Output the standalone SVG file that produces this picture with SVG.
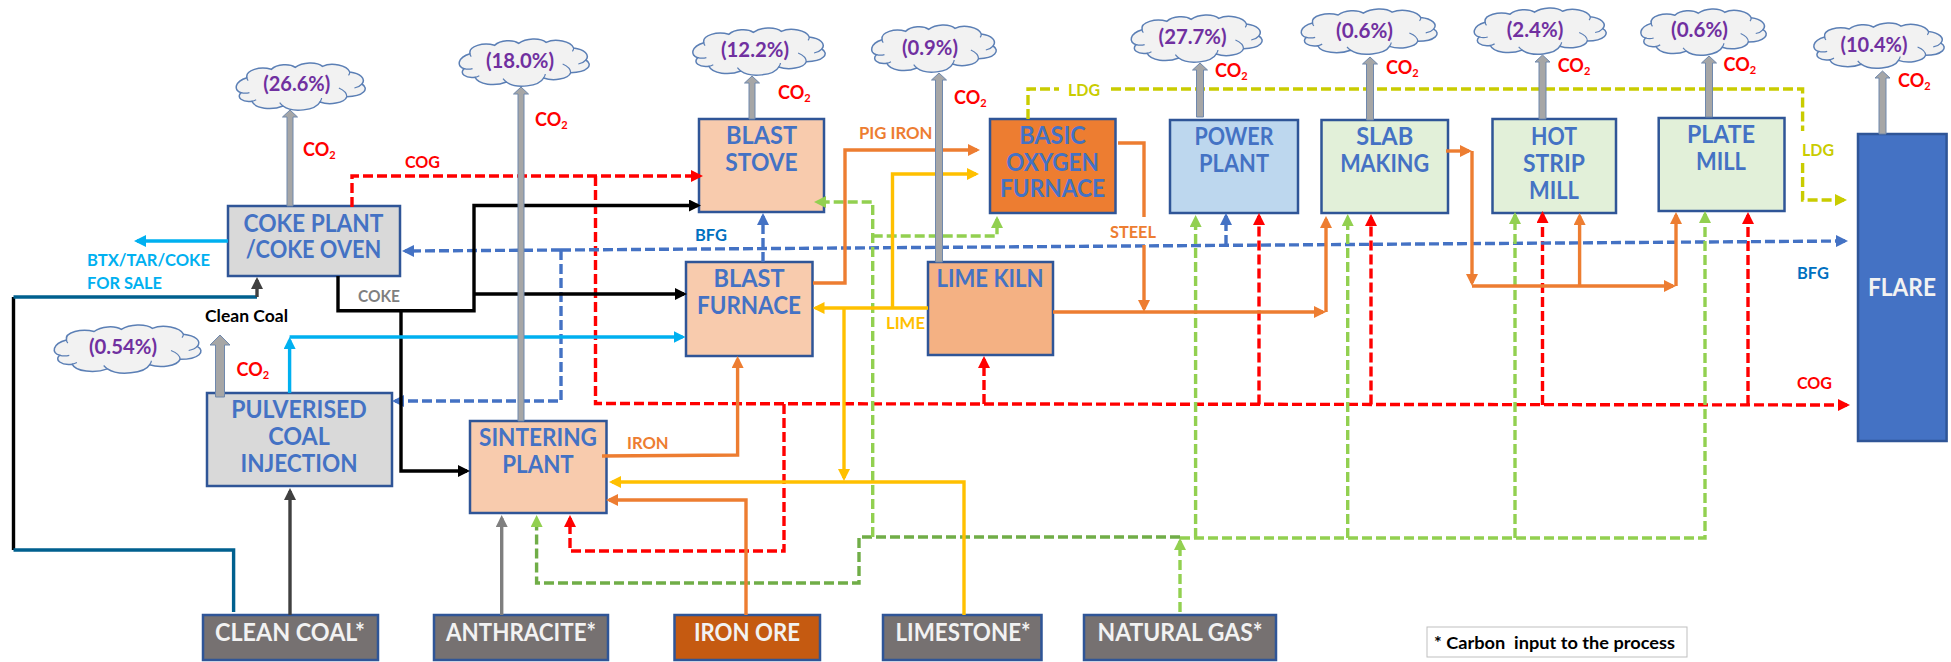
<svg xmlns="http://www.w3.org/2000/svg" xmlns:xlink="http://www.w3.org/1999/xlink" width="1951" height="662" viewBox="0 0 1951 662">
<style>
text{font-family:Lato,"Liberation Sans",sans-serif;font-weight:700}
.n{fill:#d9d9d9;stroke:#2f5597;stroke-width:2.5}
.nt{font-size:24px;fill:#4472c4;text-anchor:middle}
.it{font-size:24px;fill:#f2f2f2;text-anchor:middle}
.pc{font-size:21px;fill:#7030a0;text-anchor:middle}
.co{font-size:18px;fill:#f00}
.co tspan{font-size:11px}
.lb{font-size:17px}
.c{fill:none;stroke-width:3.4}
.d{stroke-dasharray:10 4}
.stack{fill:#a6a6a6;stroke:#6f88ad;stroke-width:1}
.cloud{fill:#f2f2f2;stroke:#5b7fb5;stroke-width:1.5;vector-effect:non-scaling-stroke}
.cl2{fill:none;stroke:#5b7fb5;stroke-width:1.2;vector-effect:non-scaling-stroke}
</style>
<defs>
<symbol id="cl" viewBox="0 0 312 147" preserveAspectRatio="none" overflow="visible">
<path class="cloud" d="M26,47C22,24 58,12 84,22C98,6 128,4 141,16C158,0 192,-2 206,13C228,0 264,10 271,30C296,34 310,50 300,66C318,80 304,104 264,104C258,124 222,130 200,120C190,145 135,154 112,132C85,146 45,140 38,118C15,122 0,106 12,92C-6,86 -4,58 26,47Z"/>
<path class="cl2" d="M26,47C26,50 27,53 29,56M12,92C18,94 26,94 32,92M38,118C41,117 45,115 48,113M112,132C108,128 106,125 104,122M200,120C202,116 204,112 204,108M264,104C264,94 256,84 245,78M300,66C296,72 290,76 282,78M271,30C271,34 270,37 268,40"/>
</symbol>
<marker id="mr" viewBox="0 0 12 12" markerWidth="12" markerHeight="12" refX="9" refY="6" orient="auto" markerUnits="userSpaceOnUse"><path d="M0,0L12,6L0,12Z" fill="#f00"/></marker>
<marker id="mb" viewBox="0 0 12 12" markerWidth="12" markerHeight="12" refX="9" refY="6" orient="auto" markerUnits="userSpaceOnUse"><path d="M0,0L12,6L0,12Z" fill="#4472c4"/></marker>
<marker id="mg" viewBox="0 0 12 12" markerWidth="12" markerHeight="12" refX="9" refY="6" orient="auto" markerUnits="userSpaceOnUse"><path d="M0,0L12,6L0,12Z" fill="#92d050"/></marker>
<marker id="ml" viewBox="0 0 12 12" markerWidth="12" markerHeight="12" refX="9" refY="6" orient="auto" markerUnits="userSpaceOnUse"><path d="M0,0L12,6L0,12Z" fill="#c9cc00"/></marker>
<marker id="mo" viewBox="0 0 12 12" markerWidth="12" markerHeight="12" refX="9" refY="6" orient="auto" markerUnits="userSpaceOnUse"><path d="M0,0L12,6L0,12Z" fill="#ed7d31"/></marker>
<marker id="my" viewBox="0 0 12 12" markerWidth="12" markerHeight="12" refX="9" refY="6" orient="auto" markerUnits="userSpaceOnUse"><path d="M0,0L12,6L0,12Z" fill="#ffc000"/></marker>
<marker id="mk" viewBox="0 0 12 12" markerWidth="12" markerHeight="12" refX="9" refY="6" orient="auto" markerUnits="userSpaceOnUse"><path d="M0,0L12,6L0,12Z" fill="#000"/></marker>
<marker id="mc" viewBox="0 0 12 12" markerWidth="12" markerHeight="12" refX="9" refY="6" orient="auto" markerUnits="userSpaceOnUse"><path d="M0,0L12,6L0,12Z" fill="#00b0f0"/></marker>
<marker id="md" viewBox="0 0 12 12" markerWidth="12" markerHeight="12" refX="9" refY="6" orient="auto" markerUnits="userSpaceOnUse"><path d="M0,0L12,6L0,12Z" fill="#404040"/></marker>
<marker id="ma" viewBox="0 0 12 12" markerWidth="12" markerHeight="12" refX="9" refY="6" orient="auto" markerUnits="userSpaceOnUse"><path d="M0,0L12,6L0,12Z" fill="#7f7f7f"/></marker>
</defs>
<rect width="1951" height="662" fill="#fff"/>
<g id="nodes">
<g id="coke-plant"><rect class="n" x="228" y="206" width="172" height="70"/><text class="nt" x="313.500" y="232" textLength="140" lengthAdjust="spacingAndGlyphs">COKE PLANT</text><text class="nt" x="313.500" y="258" textLength="135.500" lengthAdjust="spacingAndGlyphs">/COKE OVEN</text></g>
<g id="pulverised"><rect class="n" x="207" y="393" width="185" height="93"/><text class="nt" x="299" y="418" textLength="135.500" lengthAdjust="spacingAndGlyphs">PULVERISED</text><text class="nt" x="299" y="445" textLength="61.500" lengthAdjust="spacingAndGlyphs">COAL</text><text class="nt" x="299" y="472" textLength="117" lengthAdjust="spacingAndGlyphs">INJECTION</text></g>
<g id="sintering"><rect class="n" style="fill:#f8cbad" x="470" y="421" width="136.500" height="92"/><text class="nt" x="538" y="446" textLength="118" lengthAdjust="spacingAndGlyphs">SINTERING</text><text class="nt" x="538" y="473" textLength="71.500" lengthAdjust="spacingAndGlyphs">PLANT</text></g>
<g id="blast-stove"><rect class="n" style="fill:#f8cbad" x="699" y="119" width="125" height="93"/><text class="nt" x="761.500" y="144" textLength="71" lengthAdjust="spacingAndGlyphs">BLAST</text><text class="nt" x="761.500" y="171" textLength="72.400" lengthAdjust="spacingAndGlyphs">STOVE</text></g>
<g id="blast-furnace"><rect class="n" style="fill:#f8cbad" x="686" y="262" width="126.500" height="94"/><text class="nt" x="749" y="287" textLength="71" lengthAdjust="spacingAndGlyphs">BLAST</text><text class="nt" x="749" y="314" textLength="104" lengthAdjust="spacingAndGlyphs">FURNACE</text></g>
<g id="bof"><rect class="n" style="fill:#ed7d31" x="990" y="119" width="125.500" height="94"/><text class="nt" x="1052.500" y="144" textLength="66.500" lengthAdjust="spacingAndGlyphs">BASIC</text><text class="nt" x="1052.500" y="171" textLength="92.600" lengthAdjust="spacingAndGlyphs">OXYGEN</text><text class="nt" x="1052.500" y="197" textLength="105" lengthAdjust="spacingAndGlyphs">FURNACE</text></g>
<g id="lime-kiln"><rect class="n" style="fill:#f4b183" x="928" y="262" width="125" height="93"/><text class="nt" x="990" y="287" textLength="107" lengthAdjust="spacingAndGlyphs">LIME KILN</text></g>
<g id="power-plant"><rect class="n" style="fill:#bdd7ee" x="1170" y="120" width="128" height="93"/><text class="nt" x="1234" y="145" textLength="79" lengthAdjust="spacingAndGlyphs">POWER</text><text class="nt" x="1234" y="172" textLength="70" lengthAdjust="spacingAndGlyphs">PLANT</text></g>
<g id="slab"><rect class="n" style="fill:#e2f0d9" x="1321.500" y="120" width="126.500" height="93"/><text class="nt" x="1384.700" y="145" textLength="57" lengthAdjust="spacingAndGlyphs">SLAB</text><text class="nt" x="1384.700" y="172" textLength="89" lengthAdjust="spacingAndGlyphs">MAKING</text></g>
<g id="hot-strip"><rect class="n" style="fill:#e2f0d9" x="1492.500" y="119" width="123.500" height="94"/><text class="nt" x="1554" y="145" textLength="46" lengthAdjust="spacingAndGlyphs">HOT</text><text class="nt" x="1554" y="172" textLength="62" lengthAdjust="spacingAndGlyphs">STRIP</text><text class="nt" x="1554" y="199" textLength="50" lengthAdjust="spacingAndGlyphs">MILL</text></g>
<g id="plate-mill"><rect class="n" style="fill:#e2f0d9" x="1658.700" y="118" width="125.800" height="93"/><text class="nt" x="1721" y="143" textLength="68" lengthAdjust="spacingAndGlyphs">PLATE</text><text class="nt" x="1721" y="170" textLength="50" lengthAdjust="spacingAndGlyphs">MILL</text></g>
<g id="flare"><rect class="n" style="fill:#4472c4" x="1858" y="134" width="88.600" height="307"/><text class="it" x="1902" y="296" textLength="68" lengthAdjust="spacingAndGlyphs">FLARE</text></g>
<g id="clean-coal"><rect class="n" style="fill:#767171" x="203" y="615" width="175" height="45"/><text class="it" x="290" y="641" textLength="150" lengthAdjust="spacingAndGlyphs">CLEAN COAL*</text></g>
<g id="anthracite"><rect class="n" style="fill:#767171" x="434" y="615" width="174" height="45"/><text class="it" x="521" y="641" textLength="150" lengthAdjust="spacingAndGlyphs">ANTHRACITE*</text></g>
<g id="iron-ore"><rect class="n" style="fill:#c55a11" x="674.500" y="615" width="145.500" height="45"/><text class="it" x="747" y="641" textLength="106" lengthAdjust="spacingAndGlyphs">IRON ORE</text></g>
<g id="limestone"><rect class="n" style="fill:#767171" x="883" y="615" width="158.500" height="45"/><text class="it" x="963" y="641" textLength="135" lengthAdjust="spacingAndGlyphs">LIMESTONE*</text></g>
<g id="natural-gas"><rect class="n" style="fill:#767171" x="1084" y="615" width="192" height="45"/><text class="it" x="1180" y="641" textLength="165" lengthAdjust="spacingAndGlyphs">NATURAL GAS*</text></g>
<g id="legend"><rect x="1427" y="627" width="260" height="30" fill="#fff" stroke="#bfbfbf" stroke-width="1"/><text x="1434" y="649" style="font-size:17px;white-space:pre" fill="#000" textLength="241" lengthAdjust="spacingAndGlyphs">* Carbon  input to the process</text></g>
</g>
<g id="clouds">
<g id="cloud-coke"><use xlink:href="#cl" href="#cl" x="236" y="62" width="131" height="49"/><text class="pc" x="296.700" y="90.700" textLength="67" lengthAdjust="spacingAndGlyphs">(26.6%)</text></g>
<g id="cloud-sinter"><use xlink:href="#cl" href="#cl" x="459" y="38" width="132" height="49"/><text class="pc" x="520" y="68" textLength="68" lengthAdjust="spacingAndGlyphs">(18.0%)</text></g>
<g id="cloud-pci"><use xlink:href="#cl" href="#cl" x="54" y="324" width="149" height="50"/><text class="pc" x="123" y="354" textLength="68" lengthAdjust="spacingAndGlyphs">(0.54%)</text></g>
<g id="cloud-stove"><use xlink:href="#cl" href="#cl" x="692.600" y="27" width="134.400" height="49"/><text class="pc" x="755" y="57" textLength="68" lengthAdjust="spacingAndGlyphs">(12.2%)</text></g>
<g id="cloud-kiln"><use xlink:href="#cl" href="#cl" x="871.500" y="24" width="126.500" height="49"/><text class="pc" x="930" y="55" textLength="56" lengthAdjust="spacingAndGlyphs">(0.9%)</text></g>
<g id="cloud-power"><use xlink:href="#cl" href="#cl" x="1131" y="14" width="133" height="49"/><text class="pc" x="1192.600" y="44" textLength="68" lengthAdjust="spacingAndGlyphs">(27.7%)</text></g>
<g id="cloud-slab"><use xlink:href="#cl" href="#cl" x="1301" y="8" width="138" height="47"/><text class="pc" x="1364.500" y="38" textLength="57" lengthAdjust="spacingAndGlyphs">(0.6%)</text></g>
<g id="cloud-hot"><use xlink:href="#cl" href="#cl" x="1474" y="7" width="134" height="48"/><text class="pc" x="1535" y="37" textLength="56.500" lengthAdjust="spacingAndGlyphs">(2.4%)</text></g>
<g id="cloud-plate"><use xlink:href="#cl" href="#cl" x="1640.600" y="8" width="127.400" height="48"/><text class="pc" x="1699.500" y="37" textLength="57" lengthAdjust="spacingAndGlyphs">(0.6%)</text></g>
<g id="cloud-flare"><use xlink:href="#cl" href="#cl" x="1813.600" y="22" width="132.400" height="47"/><text class="pc" x="1874" y="52" textLength="67" lengthAdjust="spacingAndGlyphs">(10.4%)</text></g>
</g>
<g id="connectors">
<g stroke="#f00" class="c d">
<path d="M352,207V176H700" marker-end="url(#mr)"/>
<path d="M595.500,176V403.500L1847,405" marker-end="url(#mr)"/>
<path d="M784,404V551H570V518" marker-end="url(#mr)"/>
<path d="M984,404V359" marker-end="url(#mr)"/>
<path d="M1259,404.500V216" marker-end="url(#mr)"/>
<path d="M1371,404.500V217" marker-end="url(#mr)"/>
<path d="M1542.500,405V214" marker-end="url(#mr)"/>
<path d="M1748,405V215" marker-end="url(#mr)"/>
</g>
<g stroke="#4472c4" class="c d">
<path d="M561,250L405,251" marker-end="url(#mb)"/>
<path d="M561,250L1845,241" marker-end="url(#mb)"/>
<path d="M561,250V401H395" marker-end="url(#mb)"/>
<path d="M763,262V216" marker-end="url(#mb)"/>
<path d="M1226,245V216" marker-end="url(#mb)"/>
</g>
<g stroke="#c9cc00" class="c d">
<path d="M1028,119V89H1059"/>
<path d="M1111,89H1802.600V131"/>
<path d="M1802.600,163V200H1844" marker-end="url(#ml)"/>
</g>
<g stroke="#92d050" class="c d">
<path d="M1180,612V541" marker-end="url(#mg)"/>
<path d="M1180,537H859V583H536.600V518" stroke="#70ad47" marker-end="url(#mg)"/>
<path d="M1180,538H1705V214" marker-end="url(#mg)"/>
<path d="M1195.600,538V218" marker-end="url(#mg)"/>
<path d="M1347.700,538V217" marker-end="url(#mg)"/>
<path d="M1515,538V215" marker-end="url(#mg)"/>
<path d="M872.700,537V202H817" marker-end="url(#mg)"/>
<path d="M872.700,236H997V219" marker-end="url(#mg)"/>
</g>
<g stroke="#ed7d31" class="c">
<path d="M813,283H845V150H977" marker-end="url(#mo)"/>
<path d="M1118,143H1144V217"/>
<path d="M1144,245V309" marker-end="url(#mo)"/>
<path d="M1053,312H1323" marker-end="url(#mo)"/>
<path d="M1326,312V219" marker-end="url(#mo)"/>
<path d="M1446,151H1469" marker-end="url(#mo)"/>
<path d="M1472,151V283" marker-end="url(#mo)"/>
<path d="M1472,286H1673" marker-end="url(#mo)"/>
<path d="M1676,286V215" marker-end="url(#mo)"/>
<path d="M1579.600,286V216" marker-end="url(#mo)"/>
<path d="M602,456L737.600,455V359" marker-end="url(#mo)"/>
<path d="M746,615V500H609" marker-end="url(#mo)"/>
</g>
<g stroke="#ffc000" class="c">
<path d="M964,615V482H612" marker-end="url(#my)"/>
<path d="M928,308H815.500" marker-end="url(#my)"/>
<path d="M844,308V478" marker-end="url(#my)"/>
<path d="M892.500,308V174H976" marker-end="url(#my)"/>
</g>
<g stroke="#000" class="c">
<path d="M338,276V310.700H474V205.500H698" marker-end="url(#mk)"/>
<path d="M474,294H684" marker-end="url(#mk)"/>
<path d="M401,311V471H467" marker-end="url(#mk)"/>
<path d="M13.500,550V297"/>
</g>
<path class="c" stroke="#00608f" d="M233.600,612V550H13.500"/>
<path class="c" stroke="#00608f" d="M13.500,297H257"/>
<path class="c" stroke="#404040" d="M257,297V280" marker-end="url(#md)"/>
<path class="c" stroke="#404040" d="M290,615V491" marker-end="url(#md)"/>
<path class="c" stroke="#7f7f7f" d="M501.700,615V518" marker-end="url(#ma)"/>
<path class="c" stroke="#00b0f0" d="M289.600,393V340" marker-end="url(#mc)"/>
<path class="c" stroke="#00b0f0" d="M289.600,337H682.500" marker-end="url(#mc)"/>
<path class="c" stroke="#00b0f0" d="M228,241H137" marker-end="url(#mc)"/>
<g class="stack">
<path d="M287,206V117H282.500L290,110L297.500,117H293V206Z"/>
<path d="M518,421V94H513.500L521,87L528.500,94H524V421Z"/>
<path d="M215.500,397V345H210L220,335L230,345H224.500V397Z"/>
<path d="M749,119V83H744.500L752,76L759.500,83H755V119Z"/>
<path d="M935.500,262V80H931.500L939,73L946.500,80H942.500V262Z"/>
<path d="M1196.500,117V70H1192.500L1200,63L1207.500,70H1203.500V117Z"/>
<path d="M1366.500,120V64H1362.500L1370,57L1377.500,64H1373.500V120Z"/>
<path d="M1539,119V62H1535L1542.500,55L1550,62H1546V119Z"/>
<path d="M1705.500,117V63H1701.500L1709,56L1716.500,63H1712.500V117Z"/>
<path d="M1879,134V78H1875L1882.500,71L1890,78H1886V134Z"/>
</g>
</g>
<g id="labels">
<text class="co" x="303" y="156">CO<tspan dy="3">2</tspan></text>
<text class="co" x="535" y="126">CO<tspan dy="3">2</tspan></text>
<text class="co" x="236.500" y="376">CO<tspan dy="3">2</tspan></text>
<text class="co" x="778" y="99">CO<tspan dy="3">2</tspan></text>
<text class="co" x="954" y="104">CO<tspan dy="3">2</tspan></text>
<text class="co" x="1215" y="77">CO<tspan dy="3">2</tspan></text>
<text class="co" x="1386" y="74">CO<tspan dy="3">2</tspan></text>
<text class="co" x="1557.700" y="72">CO<tspan dy="3">2</tspan></text>
<text class="co" x="1723.500" y="71">CO<tspan dy="3">2</tspan></text>
<text class="co" x="1898" y="87">CO<tspan dy="3">2</tspan></text>
<text class="lb" fill="#f00" x="405" y="168" textLength="35" lengthAdjust="spacingAndGlyphs">COG</text>
<text class="lb" fill="#f00" x="1797" y="389" textLength="35" lengthAdjust="spacingAndGlyphs">COG</text>
<text class="lb" fill="#7f7f7f" x="358" y="302" textLength="42" lengthAdjust="spacingAndGlyphs">COKE</text>
<text class="lb" fill="#000" x="205" y="322" textLength="83" lengthAdjust="spacingAndGlyphs">Clean Coal</text>
<text class="lb" fill="#00b0f0" x="87" y="266" textLength="123" lengthAdjust="spacingAndGlyphs">BTX/TAR/COKE</text>
<text class="lb" fill="#00b0f0" x="87" y="289" textLength="75" lengthAdjust="spacingAndGlyphs">FOR SALE</text>
<text class="lb" fill="#ed7d31" x="859" y="139" textLength="73.500" lengthAdjust="spacingAndGlyphs">PIG IRON</text>
<text class="lb" fill="#ed7d31" x="1110" y="238" textLength="46" lengthAdjust="spacingAndGlyphs">STEEL</text>
<text class="lb" fill="#ed7d31" x="627" y="449" textLength="41.600" lengthAdjust="spacingAndGlyphs">IRON</text>
<text class="lb" fill="#ffc000" x="886" y="329" textLength="39" lengthAdjust="spacingAndGlyphs">LIME</text>
<text class="lb" fill="#c9cc00" x="1068" y="96" textLength="32" lengthAdjust="spacingAndGlyphs">LDG</text>
<text class="lb" fill="#c9cc00" x="1802" y="156" textLength="32" lengthAdjust="spacingAndGlyphs">LDG</text>
<text class="lb" fill="#0070c0" x="695" y="241" textLength="32" lengthAdjust="spacingAndGlyphs">BFG</text>
<text class="lb" fill="#0070c0" x="1797" y="279" textLength="32" lengthAdjust="spacingAndGlyphs">BFG</text>
</g>
</svg>
